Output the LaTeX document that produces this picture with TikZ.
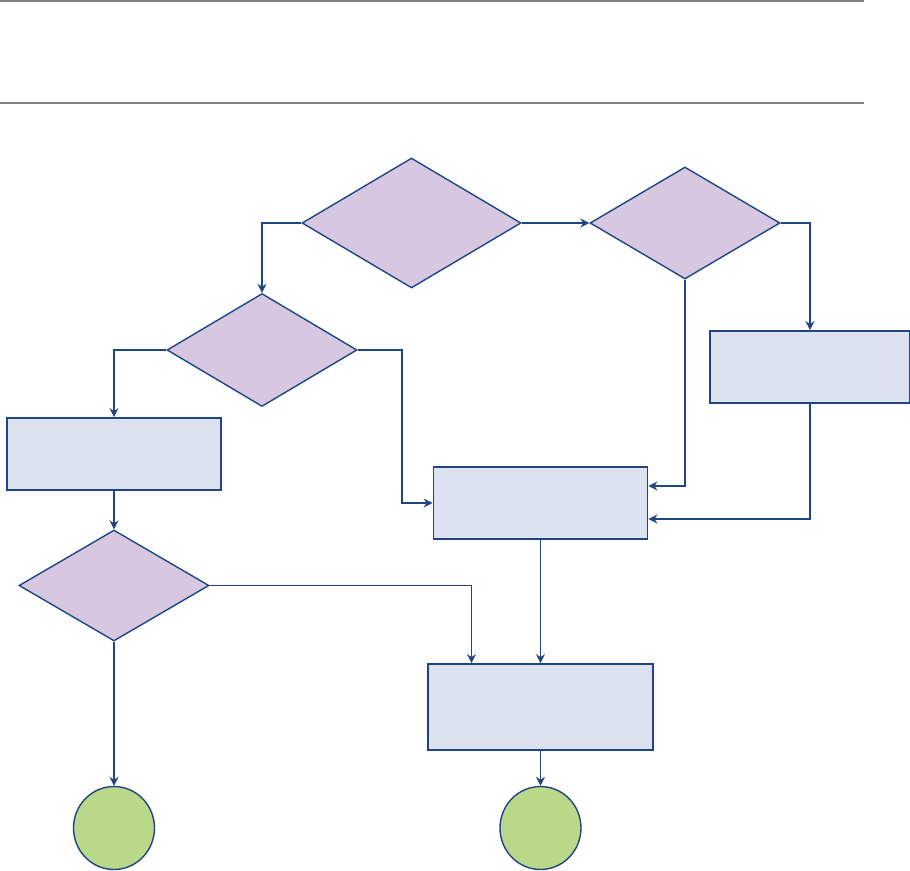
\documentclass[tikz,border=0pt]{standalone}
\usepackage{tikz}
\usetikzlibrary{arrows.meta, positioning, shapes.geometric}

\definecolor{flowblue}{HTML}{1F4682}
\definecolor{choicefill}{HTML}{D7C7E1}
\definecolor{stepfill}{HTML}{DCE2EF}
\definecolor{endfill}{HTML}{B9D88A}
\definecolor{rulegray}{HTML}{808080}

\tikzset{
  choice/.style={diamond, draw=flowblue, fill=choicefill, line width=1.4pt,
    inner sep=0pt, minimum width=190pt, minimum height=112pt},
  stepbox/.style={rectangle, draw=flowblue, fill=stepfill, line width=1.8pt,
    inner sep=0pt, minimum width=214pt, minimum height=72pt},
  endpoint/.style={ellipse, draw=flowblue, fill=endfill, line width=1.4pt,
    inner sep=0pt, minimum width=81pt, minimum height=83pt},
  flow/.style={draw=flowblue, line width=1.9pt,
    -{Stealth[length=9pt, width=9pt, inset=3pt]}},
  thinflow/.style={flow, line width=1.1pt},
}

\begin{document}
\begin{tikzpicture}[x=1pt, y=-1pt]
  \useasboundingbox (0,0) rectangle (910,870);
  % header rules
  \draw[rulegray, line width=1.3pt] (0,1) -- (864,1);
  \draw[rulegray, line width=1.3pt] (0,103) -- (864,103);

  % decisions
  \node[choice, minimum width=219pt, minimum height=130pt] (d1) at (411.5,223) {};
  \node[choice] (d2) at (685,223) {};
  \node[choice, minimum height=113pt] (d3) at (262,350) {};
  \node[choice, minimum height=111pt] (d4) at (114,585.5) {};

  % process boxes
  \node[stepbox, minimum width=200pt] (r1) at (810,367) {};
  \node[stepbox] (r2) at (114,454) {};
  \node[stepbox] (r3) at (540.5,503) {};
  \node[stepbox, minimum width=225pt, minimum height=86pt] (r4) at (540.5,707) {};

  % end points
  \node[endpoint] (c1) at (114,828) {};
  \node[endpoint] (c2) at (540.5,828) {};

  % connectors
  \draw[flow] (d1.west) -| (d3.north);
  \draw[flow] (d1.east) -- (d2.west);
  \draw[flow] (d2.east) -| (r1.north);
  \draw[flow] (d2.south) |- ([yshift=17pt]r3.east);
  \draw[flow] (r1.south) |- ([yshift=-16pt]r3.east);
  \draw[flow] (d3.west) -| (r2.north);
  \draw[flow] (d3.east) -- ++(44,0) |- (r3.west);
  \draw[flow] (r2.south) -- (d4.north);
  \draw[thinflow] (d4.east) -| ([xshift=-69pt]r4.north);
  \draw[thinflow] (r3.south) -- (r4.north);
  \draw[flow] (d4.south) -- (c1.north);
  \draw[thinflow] (r4.south) -- (c2.north);
\end{tikzpicture}
\end{document}
